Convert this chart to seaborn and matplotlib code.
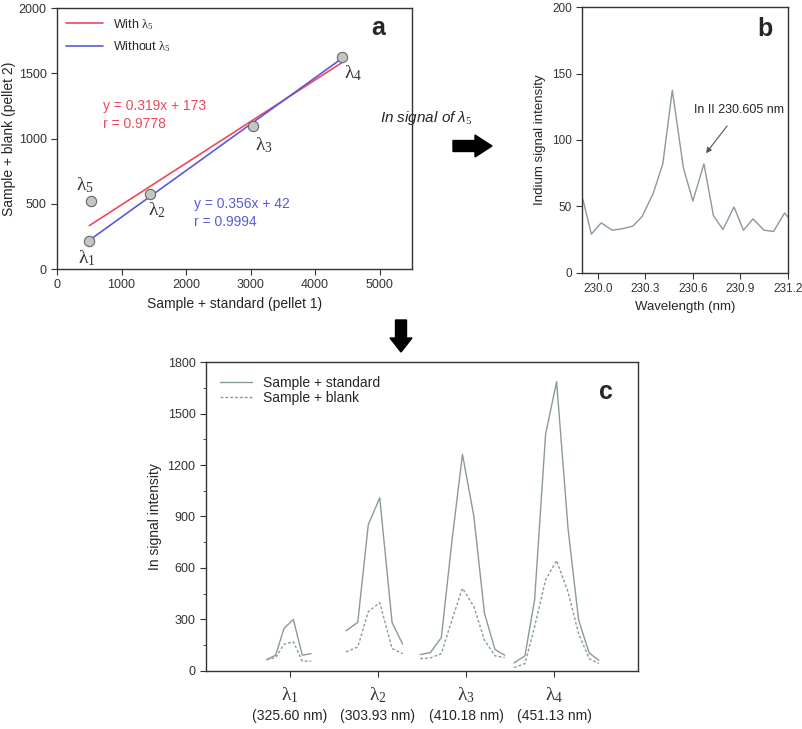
import matplotlib
matplotlib.use("Agg")
import numpy as np
import pandas as pd
import matplotlib.pyplot as plt
import seaborn as sns
from matplotlib.patches import FancyArrow
from matplotlib.ticker import MultipleLocator

# ---------------- data ----------------
# panel a : calibration points
pt_names = ["$\\lambda_1$", "$\\lambda_2$", "$\\lambda_3$", "$\\lambda_4$", "$\\lambda_5$"]
pt_x = [500, 1440, 3040, 4410, 520]
pt_y = [215, 575, 1095, 1625, 520]
fit_labels = ["With $\\lambda_5$", "Without $\\lambda_5$"]
fit_slope = [0.319, 0.356]
fit_icept = [173, 42]
fit_r = [0.9778, 0.9994]

# panel b : In signal around 230.6 nm
wl = [229.905, 229.958, 230.02, 230.09, 230.15, 230.22, 230.28, 230.35, 230.41,
      230.47, 230.54, 230.60, 230.67, 230.73, 230.79, 230.86, 230.92, 230.98,
      231.05, 231.11, 231.18, 231.2]
wl_int = [55, 29, 37.5, 32, 33, 35, 42.5, 60, 82, 137.5, 79, 54, 82, 43, 32.5,
          49.5, 32, 40.5, 32, 31, 45, 42]

# panel c : four In lines, standard vs blank
peak_ticks = [1, 2, 3, 4]
peak_names = ["$\\lambda_1$", "$\\lambda_2$", "$\\lambda_3$", "$\\lambda_4$"]
peak_nm = ["(325.60 nm)", "(303.93 nm)", "(410.18 nm)", "(451.13 nm)"]
l1_pos = [0.735, 0.837, 0.932, 1.038, 1.14, 1.24]
l1_std = [66, 92, 248, 300, 92, 101]
l1_blank = [66, 78, 156, 170, 57, 57]
l2_pos = [1.636, 1.77, 1.89, 2.02, 2.16, 2.28]
l2_std = [234, 283, 853, 1009, 283, 156]
l2_blank = [111, 140, 345, 398, 131, 101]
l3_pos = [2.48, 2.595, 2.72, 2.84, 2.96, 3.09, 3.21, 3.33, 3.44]
l3_std = [96, 107, 195, 755, 1262, 901, 336, 125, 92]
l3_blank = [72, 76, 101, 297, 482, 375, 180, 88, 78]
l4_pos = [3.545, 3.67, 3.78, 3.905, 4.03, 4.16, 4.28, 4.40, 4.51]
l4_std = [47, 88, 414, 1380, 1685, 830, 297, 105, 62]
l4_blank = [20, 43, 258, 531, 644, 460, 218, 72, 43]

# ---------------- style ----------------
sns.set_style("ticks")
plt.rcParams["font.family"] = ["Liberation Sans", "DejaVu Sans"]
plt.rcParams["mathtext.fontset"] = "custom"
plt.rcParams["mathtext.rm"] = "Liberation Serif"
plt.rcParams["mathtext.it"] = "Liberation Serif"
plt.rcParams["mathtext.sf"] = "Liberation Sans:italic"
plt.rcParams["axes.linewidth"] = 1.0
plt.rcParams["axes.edgecolor"] = "#333333"
plt.rcParams["xtick.color"] = "#333333"
plt.rcParams["ytick.color"] = "#333333"

red = "#f0465c"
blue = "#5a5ad8"
grey = "#8a9a9c"

fig = plt.figure(figsize=(8.03, 7.29), dpi=100)
ax_a = fig.add_axes([0.071, 0.631, 0.442, 0.358])
ax_b = fig.add_axes([0.725, 0.626, 0.256, 0.364])
ax_c = fig.add_axes([0.2565, 0.0796, 0.538, 0.4238])

for ax in (ax_a, ax_b, ax_c):
    for s in ax.spines.values():
        s.set_visible(True)
    ax.tick_params(labelsize=9, direction="out", length=4)

# =====================================================
# a : regression lines
# =====================================================
x_lo = min(pt_x[:4])
x_hi = max(pt_x[:4])
fit_rows = []
for lab, m, b in zip(fit_labels, fit_slope, fit_icept):
    for xv in (x_lo, x_hi):
        fit_rows.append({"x": xv, "y": m * xv + b, "fit": lab})
fit_df = pd.DataFrame(fit_rows)

sns.lineplot(data=fit_df, x="x", y="y", hue="fit", palette=[red, blue],
             ax=ax_a, linewidth=1.2)
sns.scatterplot(x=pt_x, y=pt_y, ax=ax_a, s=55, color="#c4c4c4",
                edgecolor="#666666", linewidth=0.8, zorder=5, legend=False)

lab_dx = [-40, 100, 160, 175, -90]
lab_dy = [-131, -123, -145, -123, 123]
for n, xv, yv, dx, dy in zip(pt_names, pt_x, pt_y, lab_dx, lab_dy):
    ax_a.text(xv + dx, yv + dy, n, fontsize=14, ha="center", va="center",
              color="#333333")

ax_a.text(710, 1300, "y = %.3fx + %d\nr = %.4f" % (fit_slope[0], fit_icept[0], fit_r[0]),
          color=red, fontsize=10, va="top", linespacing=1.3)
ax_a.text(2120, 550, "y = %.3fx + %d\nr = %.4f" % (fit_slope[1], fit_icept[1], fit_r[1]),
          color=blue, fontsize=10, va="top", linespacing=1.3)

ax_a.set_xlim(0, 5500)
ax_a.set_ylim(0, 2000)
ax_a.xaxis.set_major_locator(MultipleLocator(1000))
ax_a.yaxis.set_major_locator(MultipleLocator(500))
ax_a.set_xlabel("Sample + standard (pellet 1)", fontsize=10)
ax_a.set_ylabel("Sample + blank (pellet 2)", fontsize=10, labelpad=2)
ax_a.legend(loc="upper left", frameon=False, fontsize=9, handlelength=3,
            borderaxespad=0.3, labelspacing=0.6)
ax_a.text(0.905, 0.925, "a", transform=ax_a.transAxes, fontsize=18,
          fontweight="bold", ha="center", va="center")

# =====================================================
# b : indium spectrum
# =====================================================
sns.lineplot(x=wl, y=wl_int, ax=ax_b, color=grey, linewidth=1.0)
ax_b.set_xlim(229.9, 231.2)
ax_b.set_ylim(0, 200)
ax_b.set_xticks([230.0, 230.3, 230.6, 230.9, 231.2])
ax_b.set_xticklabels(["230.0", "230.3", "230.6", "230.9", "231.2"])
ax_b.yaxis.set_major_locator(MultipleLocator(50))
ax_b.tick_params(labelsize=8.5)
ax_b.set_xlabel("Wavelength (nm)", fontsize=9.5)
ax_b.set_ylabel("Indium signal intensity", fontsize=9.5)
ax_b.annotate("In II 230.605 nm", xy=(230.683, 90), xytext=(230.894, 122.5),
              fontsize=9, ha="center", va="center",
              arrowprops=dict(arrowstyle="-|>", color="#555555", lw=0.8,
                              shrinkA=6, shrinkB=0, mutation_scale=8))
ax_b.text(0.89, 0.92, "b", transform=ax_b.transAxes, fontsize=18,
          fontweight="bold", ha="center", va="center")

# =====================================================
# c : standard vs blank for the four lines
# =====================================================
rows = []
for k, (pos, std, blank) in enumerate([(l1_pos, l1_std, l1_blank),
                                       (l2_pos, l2_std, l2_blank),
                                       (l3_pos, l3_std, l3_blank),
                                       (l4_pos, l4_std, l4_blank)]):
    for p, v in zip(pos, std):
        rows.append({"pos": p, "val": v, "series": "Sample + standard", "peak": k})
    for p, v in zip(pos, blank):
        rows.append({"pos": p, "val": v, "series": "Sample + blank", "peak": k})
c_df = pd.DataFrame(rows)

sns.lineplot(data=c_df, x="pos", y="val", style="series", units="peak",
             estimator=None, color=grey, linewidth=1.0, ax=ax_c,
             dashes={"Sample + standard": "", "Sample + blank": (2, 1.5)},
             sort=False)
ax_c.set_xlim(0.045, 4.955)
ax_c.set_ylim(0, 1800)
ax_c.set_xticks(peak_ticks)
ax_c.set_xticklabels(peak_names, fontsize=14)
ax_c.yaxis.set_major_locator(MultipleLocator(300))
ax_c.yaxis.set_minor_locator(MultipleLocator(150))
ax_c.tick_params(axis="y", which="minor", length=2.5)
ax_c.tick_params(axis="x", pad=6)
for t, s in zip(peak_ticks, peak_nm):
    ax_c.text(t, -0.146, s, transform=ax_c.get_xaxis_transform(), fontsize=10,
              ha="center", va="center")
ax_c.set_xlabel("")
ax_c.set_ylabel("In signal intensity", fontsize=10)
ax_c.legend(loc="upper left", frameon=False, fontsize=10, handlelength=2.3,
            borderaxespad=0.6, labelspacing=0.1, title=None)
ax_c.text(0.926, 0.903, "c", transform=ax_c.transAxes, fontsize=18,
          fontweight="bold", ha="center", va="center")

# =====================================================
# arrows and connecting text
# =====================================================
W, H = 803, 729
fig.patches.append(FancyArrow(453 / W, 1 - 146 / H, 22 / W, 0, width=11 / H,
                              head_width=22 / H, head_length=17 / W,
                              length_includes_head=False, color="black",
                              transform=fig.transFigure, figure=fig))
fig.patches.append(FancyArrow(401 / W, 1 - 320 / H, 0, -18 / H, width=11 / W,
                              head_width=22 / W, head_length=14 / H,
                              length_includes_head=False, color="black",
                              transform=fig.transFigure, figure=fig))
fig.text(426 / W, 1 - 118 / H, "In signal of $\\mathsf{\\lambda}_5$", fontsize=11,
         style="italic", ha="center", va="center")

fig.savefig("out.png", dpi=100)
